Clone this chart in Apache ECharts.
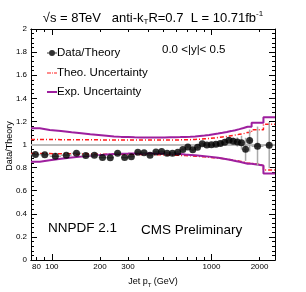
<!DOCTYPE html>
<html><head><meta charset="utf-8">
<script src="https://cdn.jsdelivr.net/npm/echarts@6/dist/echarts.min.js"></script>
<style>html,body{margin:0;padding:0;background:#fff}#c{width:306px;height:292px}</style>
</head><body><div id="c"></div>
<script>
// ---- data ----
const binEdges = [74,84,97,114,133,153,174,196,220,245,272,300,330,362,395,430,468,507,548,592,638,686,737,790,846,905,967,1032,1101,1172,1248,1327,1410,1497,1588,1684,1784,2116,2500];
const ratio = [0.913,0.912,0.898,0.908,0.924,0.905,0.906,0.888,0.886,0.924,
  0.887,0.895,0.933,0.929,0.908,0.935,0.940,0.925,0.925,0.933,
  0.957,0.979,0.955,0.976,1.006,0.996,0.998,1.002,1.008,1.020,
  1.037,1.028,1.022,1.016,0.958,1.034,0.985,0.994];
const ratioErr = [0.004,0.004,0.004,0.004,0.004,0.004,0.004,0.005,0.005,0.005,
  0.005,0.005,0.006,0.006,0.006,0.007,0.007,0.008,0.008,0.009,
  0.010,0.011,0.012,0.013,0.014,0.016,0.018,0.020,0.022,0.025,
  0.028,0.032,0.040,0.060,0.100,0.095,0.170,0.200];
const expUp = [1.140,1.126,1.117,1.106,1.097,1.088,1.082,1.076,1.070,1.066,
  1.064,1.062,1.061,1.060,1.060,1.060,1.061,1.062,1.063,1.064,
  1.065,1.067,1.070,1.074,1.078,1.083,1.089,1.095,1.101,1.108,
  1.116,1.124,1.133,1.143,1.154,1.154,1.189,1.235];
const expDown = [0.851,0.863,0.876,0.887,0.895,0.902,0.908,0.913,0.917,0.919,
  0.921,0.922,0.923,0.923,0.923,0.923,0.922,0.921,0.919,0.917,
  0.913,0.910,0.907,0.903,0.899,0.895,0.890,0.885,0.879,0.873,
  0.866,0.858,0.850,0.842,0.834,0.834,0.818,0.750];
const theoUp = [1.044,1.043,1.042,1.042,1.041,1.041,1.040,1.040,1.040,1.040,
  1.040,1.040,1.040,1.040,1.040,1.040,1.040,1.040,1.040,1.040,
  1.041,1.042,1.044,1.046,1.049,1.052,1.056,1.060,1.065,1.070,
  1.076,1.082,1.088,1.094,1.104,1.104,1.128,1.176];
const theoDown = [0.922,0.921,0.920,0.919,0.918,0.917,0.916,0.916,0.915,0.915,
  0.914,0.914,0.913,0.913,0.912,0.911,0.910,0.909,0.908,0.906,
  0.904,0.902,0.899,0.896,0.893,0.890,0.886,0.882,0.878,0.873,
  0.868,0.862,0.856,0.850,0.837,0.837,0.823,0.779];
const xLabelValues = [80,100,200,300,1000,2000];
const xMajorTicks = [100,1000];
const xMinorTicks = [80,90,200,300,400,500,600,700,800,900,2000];
const xMin = 74, xMax = 2500, yMin = 0, yMax = 2, yStep = 0.2;

// ---- build ----
const FONT = 'Liberation Sans';
const PURPLE = '#9e1f9e', RED = '#ff1a1a', GREY = '#aaaaaa';
function stepData(vals){
  const d = vals.map((v,i)=>[binEdges[i], v]);
  d.push([binEdges[binEdges.length-1], vals[vals.length-1]]);
  return d;
}
const points = ratio.map((v,i)=>[Math.sqrt(binEdges[i]*binEdges[i+1]), v, ratioErr[i], binEdges[i], binEdges[i+1]]);

function xAx(pos, ticks, len, labels){
  return {type:'log', logBase:10, min:xMin, max:xMax, position:pos, gridIndex:0,
    axisLine:{show:true, onZero:false, lineStyle:{color:'#000', width:1}},
    axisTick:{show:true, inside:true, length:len, customValues:ticks, lineStyle:{color:'#000'}},
    minorTick:{show:false}, splitLine:{show:false},
    axisLabel: labels ? {show:true, customValues:xLabelValues, formatter:function(v){return String(v);},
      fontSize:8, fontFamily:FONT, color:'#000', margin:3} : {show:false},
    name: labels ? '{a|Jet p}{s|T}{a| (GeV)}' : '',
    nameLocation:'middle', nameGap:16,
    nameTextStyle:{rich:{a:{fontSize:9, fontFamily:FONT, color:'#000', lineHeight:12},
                         s:{fontSize:6, fontFamily:FONT, color:'#000', lineHeight:6, verticalAlign:'bottom'}}}
  };
}
function yAx(pos, labels){
  return {type:'value', min:yMin, max:yMax, interval:yStep, position:pos,
    axisLine:{show:true, lineStyle:{color:'#000', width:1}},
    axisTick:{show:true, inside:true, length:6, lineStyle:{color:'#000'}},
    minorTick:{show:true, splitNumber:5, length:3, lineStyle:{color:'#000'}},
    splitLine:{show:false},
    axisLabel: labels ? {show:true, fontSize:8, fontFamily:FONT, color:'#000', margin:4} : {show:false}
  };
}
const legText = {fontSize:11.5, fontFamily:FONT, color:'#000', padding:[0,0,0,-5]};

const chart = echarts.init(document.getElementById('c'), null, {renderer:'canvas'});
chart.setOption({
  animation:false,
  backgroundColor:'#fff',
  grid:{left:31, right:31, top:29, bottom:32, containLabel:false, outerBoundsMode:'none'},
  xAxis:[xAx('bottom', xMajorTicks, 6, true), xAx('bottom', xMinorTicks, 3, false),
         xAx('top', xMajorTicks, 6, false), xAx('top', xMinorTicks, 3, false)],
  yAxis:[yAx('left', true), yAx('right', false)],
  legend:[
    {data:['Data/Theory'], left:47, top:47, orient:'vertical', padding:0, itemWidth:10, itemHeight:6,
     icon:'path://M0 2.6L10 2.6L10 3.4L0 3.4Z M8 3A3 3 0 1 1 2 3A3 3 0 1 1 8 3Z',
     textStyle:legText, selectedMode:false},
    {data:['Theo. Uncertainty'], left:47, top:67, orient:'vertical', padding:0, itemWidth:10, itemHeight:1.5,
     icon:'path://M0 0H4V1H0Z M5 0H6V1H5Z M7 0H10V1H7Z', itemStyle:{color:RED},
     textStyle:legText, selectedMode:false},
    {data:['Exp. Uncertainty'], left:47, top:86, orient:'vertical', padding:0, itemWidth:10, itemHeight:2,
     icon:'rect', itemStyle:{color:PURPLE},
     textStyle:legText, selectedMode:false}
  ],
  graphic:[
    {type:'text', left:'center', top:10, z:10,
     style:{text:'{a|\u221As = 8TeV   anti-k}{s|T}{a|R=0.7  L = 10.71fb}{p|-1}',
       rich:{a:{fontSize:13, fontFamily:FONT, fill:'#000', lineHeight:16},
             s:{fontSize:8, fontFamily:FONT, fill:'#000', lineHeight:8, verticalAlign:'bottom'},
             p:{fontSize:8, fontFamily:FONT, fill:'#000', lineHeight:8, verticalAlign:'top'}}}},
    {type:'text', x:10, y:146, rotation:Math.PI/2, z:10,
     style:{text:'Data/Theory', fontSize:9, fontFamily:FONT, fill:'#000', align:'center', verticalAlign:'middle'}},
    {type:'text', left:162, top:44, z:10, style:{text:'0.0 <|y|< 0.5', fontSize:11.5, fontFamily:FONT, fill:'#000'}},
    {type:'text', left:48, top:221, z:10, style:{text:'NNPDF 2.1', fontSize:13.5, fontFamily:FONT, fill:'#000'}},
    {type:'text', left:141, top:223, z:10, style:{text:'CMS Preliminary', fontSize:13.5, fontFamily:FONT, fill:'#000'}}
  ],
  series:[
    {type:'line', name:'unity', data:[], markLine:{silent:true, symbol:'none', label:{show:false},
      lineStyle:{color:'#bbbbbb', width:2, type:'solid'}, data:[{yAxis:1}]}, z:1},
    {type:'line', name:'Theo. Uncertainty', data:stepData(theoUp), step:'end', symbol:'none',
      lineStyle:{color:RED, width:1.5, type:[4,2,1,2]}, itemStyle:{color:RED}, z:3},
    {type:'line', name:'Theo. Uncertainty', data:stepData(theoDown), step:'end', symbol:'none',
      lineStyle:{color:RED, width:1.5, type:[4,2,1,2]}, itemStyle:{color:RED}, z:3},
    {type:'line', name:'Exp. Uncertainty', data:stepData(expUp), step:'end', symbol:'none',
      lineStyle:{color:PURPLE, width:2}, itemStyle:{color:PURPLE}, z:4},
    {type:'line', name:'Exp. Uncertainty', data:stepData(expDown), step:'end', symbol:'none',
      lineStyle:{color:PURPLE, width:2}, itemStyle:{color:PURPLE}, z:4},
    {type:'custom', name:'errors', data:points, z:5,
      renderItem:function(params, api){
        const x = api.value(0), y = api.value(1), e = api.value(2), lo = api.value(3), hi = api.value(4);
        const c = api.coord([x,y]), t = api.coord([x,y+e]), b = api.coord([x,y-e]);
        const l = api.coord([lo,y]), r = api.coord([hi,y]);
        return {type:'group', children:[
          {type:'line', shape:{x1:c[0], y1:t[1], x2:c[0], y2:b[1]}, style:{stroke:GREY, lineWidth:1.5}},
          {type:'line', shape:{x1:l[0], y1:c[1], x2:r[0], y2:c[1]}, style:{stroke:GREY, lineWidth:1.5}}
        ]};
      }},
    {type:'scatter', name:'Data/Theory', data:points.map(p=>[p[0],p[1]]), symbol:'circle', symbolSize:7,
      itemStyle:{color:'#000'}, z:6}
  ]
});
</script></body></html>
